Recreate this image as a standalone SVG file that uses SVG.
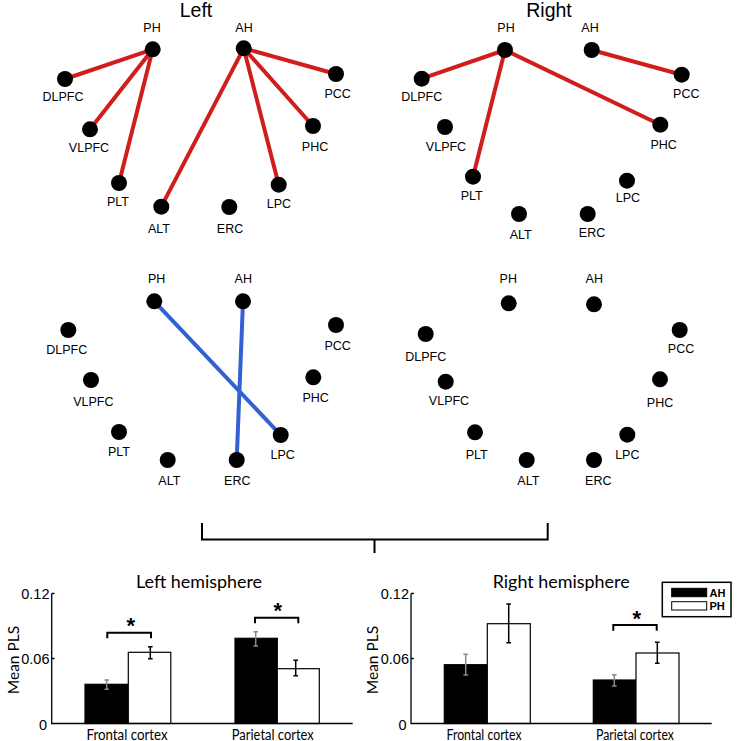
<svg xmlns="http://www.w3.org/2000/svg" width="750" height="741" viewBox="0 0 750 741">
<style>
.nd{fill:#000}
.lb{font-family:"Liberation Sans",Arial,sans-serif;font-size:12.5px;fill:#000;text-anchor:middle}
.ttl{font-family:"Liberation Sans",Arial,sans-serif;font-size:19.5px;fill:#000;text-anchor:middle}
.red{stroke:#d21d1d;stroke-width:4;fill:none;stroke-linecap:round}
.blue{stroke:#3360d2;stroke-width:4;fill:none;stroke-linecap:round}
.ax{stroke:#000;stroke-width:1.3;fill:none}
.br{stroke:#000;stroke-width:2;fill:none}
.ct{font-family:Lato,"Open Sans",sans-serif;font-size:18px;fill:#000;text-anchor:middle}
.xl{font-family:Lato,"Open Sans",sans-serif;font-size:14.5px;fill:#000;text-anchor:middle}
.yl{font-family:Lato,"Open Sans",sans-serif;font-size:15.5px;fill:#000;text-anchor:middle}
.tk{font-family:"Liberation Sans",Arial,sans-serif;font-size:14.5px;fill:#000;text-anchor:end}
.star{font-family:"Liberation Sans",Arial,sans-serif;font-size:22px;font-weight:bold;fill:#000;text-anchor:middle}
.bk{fill:#000;stroke:#000;stroke-width:1.2}
.wh{fill:#fff;stroke:#000;stroke-width:1.2}
.eg{stroke:#8a8a8a;stroke-width:1.5;fill:none}
.eb{stroke:#000;stroke-width:1.5;fill:none}
.lg{font-family:"Liberation Sans",Arial,sans-serif;font-size:11px;font-weight:bold;fill:#000}
</style>
<rect width="750" height="741" fill="#fff"/>

<text class="ttl" x="196" y="16.5">Left</text>
<text class="ttl" x="549" y="16.5">Right</text>

<g id="connectors">
  <line class="red" x1="152.7" y1="49.3" x2="65" y2="79"/>
  <line class="red" x1="152.7" y1="49.3" x2="90" y2="129.3"/>
  <line class="red" x1="152.7" y1="49.3" x2="119" y2="183"/>
  <line class="red" x1="243.7" y1="48.3" x2="161.3" y2="206.7"/>
  <line class="red" x1="243.7" y1="48.3" x2="278.7" y2="184.7"/>
  <line class="red" x1="243.7" y1="48.3" x2="313" y2="126"/>
  <line class="red" x1="243.7" y1="48.3" x2="336" y2="74"/>
  <line class="red" x1="505" y1="50" x2="421.7" y2="78.7"/>
  <line class="red" x1="505" y1="50" x2="473" y2="176.7"/>
  <line class="red" x1="505" y1="50" x2="660.3" y2="124.7"/>
  <line class="red" x1="591.7" y1="50" x2="681.7" y2="74.7"/>
  <line class="blue" x1="154.3" y1="301.3" x2="280.7" y2="435"/>
  <line class="blue" x1="243" y1="301.3" x2="236.7" y2="460"/>
</g>

<!-- Top left -->
<g id="tl-PH"><circle class="nd" cx="152.7" cy="49.3" r="8"/><text class="lb" x="152" y="32">PH</text></g>
<g id="tl-AH"><circle class="nd" cx="243.7" cy="48.3" r="8"/><text class="lb" x="244" y="32">AH</text></g>
<g id="tl-DLPFC"><circle class="nd" cx="65" cy="79" r="8"/><text class="lb" x="63" y="101">DLPFC</text></g>
<g id="tl-VLPFC"><circle class="nd" cx="90" cy="129.3" r="8"/><text class="lb" x="89" y="152">VLPFC</text></g>
<g id="tl-PLT"><circle class="nd" cx="119" cy="183" r="8"/><text class="lb" x="118" y="206">PLT</text></g>
<g id="tl-ALT"><circle class="nd" cx="161.3" cy="206.7" r="8"/><text class="lb" x="159" y="232.7">ALT</text></g>
<g id="tl-ERC"><circle class="nd" cx="229.3" cy="207" r="8"/><text class="lb" x="230" y="232.7">ERC</text></g>
<g id="tl-LPC"><circle class="nd" cx="278.7" cy="184.7" r="8"/><text class="lb" x="279" y="208">LPC</text></g>
<g id="tl-PHC"><circle class="nd" cx="313" cy="126" r="8"/><text class="lb" x="315" y="150.7">PHC</text></g>
<g id="tl-PCC"><circle class="nd" cx="336" cy="74" r="8"/><text class="lb" x="337.7" y="98">PCC</text></g>

<!-- Top right -->
<g id="tr-PH"><circle class="nd" cx="505" cy="50" r="8"/><text class="lb" x="506" y="32">PH</text></g>
<g id="tr-AH"><circle class="nd" cx="591.7" cy="50" r="8"/><text class="lb" x="590" y="32">AH</text></g>
<g id="tr-DLPFC"><circle class="nd" cx="421.7" cy="78.7" r="8"/><text class="lb" x="421.7" y="101">DLPFC</text></g>
<g id="tr-VLPFC"><circle class="nd" cx="445" cy="127" r="8"/><text class="lb" x="446" y="151">VLPFC</text></g>
<g id="tr-PLT"><circle class="nd" cx="473" cy="176.7" r="8"/><text class="lb" x="471.7" y="200">PLT</text></g>
<g id="tr-ALT"><circle class="nd" cx="519" cy="214" r="8"/><text class="lb" x="520.7" y="239">ALT</text></g>
<g id="tr-ERC"><circle class="nd" cx="587.7" cy="214" r="8"/><text class="lb" x="592" y="237">ERC</text></g>
<g id="tr-LPC"><circle class="nd" cx="627" cy="180.7" r="8"/><text class="lb" x="628" y="201.7">LPC</text></g>
<g id="tr-PHC"><circle class="nd" cx="660.3" cy="124.7" r="8"/><text class="lb" x="663.7" y="148.7">PHC</text></g>
<g id="tr-PCC"><circle class="nd" cx="681.7" cy="74.7" r="8"/><text class="lb" x="686.3" y="98">PCC</text></g>

<!-- Middle left -->
<g id="ml-PH"><circle class="nd" cx="154.3" cy="301.3" r="8"/><text class="lb" x="156.7" y="283.3">PH</text></g>
<g id="ml-AH"><circle class="nd" cx="243" cy="301.3" r="8"/><text class="lb" x="243.3" y="283.3">AH</text></g>
<g id="ml-DLPFC"><circle class="nd" cx="68.3" cy="330" r="8"/><text class="lb" x="66.7" y="354.3">DLPFC</text></g>
<g id="ml-VLPFC"><circle class="nd" cx="91" cy="380" r="8"/><text class="lb" x="93.3" y="406">VLPFC</text></g>
<g id="ml-PLT"><circle class="nd" cx="119" cy="432" r="8"/><text class="lb" x="119" y="455.7">PLT</text></g>
<g id="ml-ALT"><circle class="nd" cx="167.7" cy="460" r="8"/><text class="lb" x="169.3" y="485">ALT</text></g>
<g id="ml-ERC"><circle class="nd" cx="236.7" cy="460" r="8"/><text class="lb" x="237.3" y="485">ERC</text></g>
<g id="ml-LPC"><circle class="nd" cx="280.7" cy="435" r="8"/><text class="lb" x="282.7" y="458.7">LPC</text></g>
<g id="ml-PHC"><circle class="nd" cx="313.3" cy="377.3" r="8"/><text class="lb" x="315.7" y="401.7">PHC</text></g>
<g id="ml-PCC"><circle class="nd" cx="336" cy="325" r="8"/><text class="lb" x="337.7" y="350">PCC</text></g>

<!-- Middle right -->
<g id="mr-PH"><circle class="nd" cx="508.7" cy="303.3" r="8"/><text class="lb" x="508.3" y="283.3">PH</text></g>
<g id="mr-AH"><circle class="nd" cx="594" cy="304.3" r="8"/><text class="lb" x="594.3" y="283.3">AH</text></g>
<g id="mr-DLPFC"><circle class="nd" cx="425.7" cy="334" r="8"/><text class="lb" x="425.7" y="360.7">DLPFC</text></g>
<g id="mr-VLPFC"><circle class="nd" cx="445.7" cy="381.7" r="8"/><text class="lb" x="449" y="405">VLPFC</text></g>
<g id="mr-PLT"><circle class="nd" cx="475" cy="432.3" r="8"/><text class="lb" x="476.7" y="459.3">PLT</text></g>
<g id="mr-ALT"><circle class="nd" cx="526.7" cy="460" r="8"/><text class="lb" x="528.3" y="485.3">ALT</text></g>
<g id="mr-ERC"><circle class="nd" cx="594" cy="460" r="8"/><text class="lb" x="598.3" y="485.3">ERC</text></g>
<g id="mr-LPC"><circle class="nd" cx="627.3" cy="434.7" r="8"/><text class="lb" x="627.3" y="459.3">LPC</text></g>
<g id="mr-PHC"><circle class="nd" cx="660" cy="379.3" r="8"/><text class="lb" x="660" y="406.7">PHC</text></g>
<g id="mr-PCC"><circle class="nd" cx="679.7" cy="330" r="8"/><text class="lb" x="681" y="353.3">PCC</text></g>

<!-- Big bracket -->
<path class="br" d="M202,523 V539.5 H547.7 V523 M374.5,539.5 V553"/>

<!-- Left hemisphere chart -->
<g id="chart-left">
  <text class="ct" x="199" y="588.3" textLength="126" lengthAdjust="spacingAndGlyphs">Left hemisphere</text>
  <rect class="bk" x="85" y="684.3" width="43.3" height="39.2"/>
  <rect class="wh" x="128.3" y="652.3" width="42.5" height="71.2"/>
  <rect class="bk" x="235" y="638.3" width="42.3" height="85.2"/>
  <rect class="wh" x="277.3" y="668.7" width="42" height="54.8"/>
  <path class="eg" d="M106.7,680 V689.3 M104.5,680 H108.9 M104.5,689.3 H108.9"/>
  <path class="eb" d="M150.3,646.7 V658.7 M148,646.7 H152.6 M148,658.7 H152.6"/>
  <path class="eg" d="M255.7,631.7 V646 M253.4,631.7 H258 M253.4,646 H258"/>
  <path class="eb" d="M295.7,660.3 V675.7 M293.4,660.3 H298 M293.4,675.7 H298"/>
  <path class="br" d="M107.3,638.3 V632.7 H151 V638.3"/>
  <text class="star" x="130.7" y="633">*</text>
  <path class="br" d="M255,623.3 V617.7 H298.3 V623.3"/>
  <text class="star" x="277.7" y="618">*</text>
  <path class="ax" d="M51.7,593.5 V723.5 H352.7 M51.7,593.5 H54.5 M51.7,658.5 H54.5"/>
  <text class="tk" x="49.5" y="599">0.12</text>
  <text class="tk" x="49.5" y="663.5">0.06</text>
  <text class="tk" x="47" y="729.5">0</text>
  <text class="yl" transform="translate(19,660) rotate(-90)">Mean PLS</text>
  <text class="xl" x="127" y="739.5" textLength="81" lengthAdjust="spacingAndGlyphs">Frontal cortex</text>
  <text class="xl" x="272.8" y="739.5" textLength="82" lengthAdjust="spacingAndGlyphs">Parietal cortex</text>
</g>

<!-- Right hemisphere chart -->
<g id="chart-right">
  <text class="ct" x="561.2" y="588.3" textLength="137" lengthAdjust="spacingAndGlyphs">Right hemisphere</text>
  <rect class="bk" x="444.3" y="664.7" width="43" height="58.8"/>
  <rect class="wh" x="487.3" y="623.7" width="43" height="99.8"/>
  <rect class="bk" x="593.3" y="680" width="42.7" height="43.5"/>
  <rect class="wh" x="636" y="653" width="43" height="70.5"/>
  <path class="eg" d="M465.7,654.3 V675 M463.4,654.3 H468 M463.4,675 H468"/>
  <path class="eb" d="M508.7,604 V642.7 M506.4,604 H511 M506.4,642.7 H511"/>
  <path class="eg" d="M614.3,674.7 V686 M612,674.7 H616.6 M612,686 H616.6"/>
  <path class="eb" d="M657.3,642.3 V663.3 M655,642.3 H659.6 M655,663.3 H659.6"/>
  <path class="br" d="M613.3,630.7 V625 H656.7 V630.7"/>
  <text class="star" x="636.7" y="625.5">*</text>
  <path class="ax" d="M411,593.5 V723.5 H711.7 M411,593.5 H413.8 M411,658.5 H413.8"/>
  <text class="tk" x="409" y="599">0.12</text>
  <text class="tk" x="409" y="663.5">0.06</text>
  <text class="tk" x="406.5" y="729.5">0</text>
  <text class="yl" transform="translate(378,660) rotate(-90)">Mean PLS</text>
  <text class="xl" x="484" y="739.5" textLength="75" lengthAdjust="spacingAndGlyphs">Frontal cortex</text>
  <text class="xl" x="635" y="739.5" textLength="78" lengthAdjust="spacingAndGlyphs">Parietal cortex</text>
  <g id="legend">
    <rect x="662.3" y="582.3" width="68.7" height="34.4" fill="#fff" stroke="#000" stroke-width="1.5"/>
    <rect x="671.7" y="588.3" width="35" height="8.4" fill="#000" stroke="#000" stroke-width="1"/>
    <rect x="671.7" y="601.7" width="35" height="8.3" fill="#fff" stroke="#000" stroke-width="1"/>
    <text class="lg" x="709.5" y="596.7">AH</text>
    <text class="lg" x="709.5" y="610">PH</text>
  </g>
</g>
</svg>
